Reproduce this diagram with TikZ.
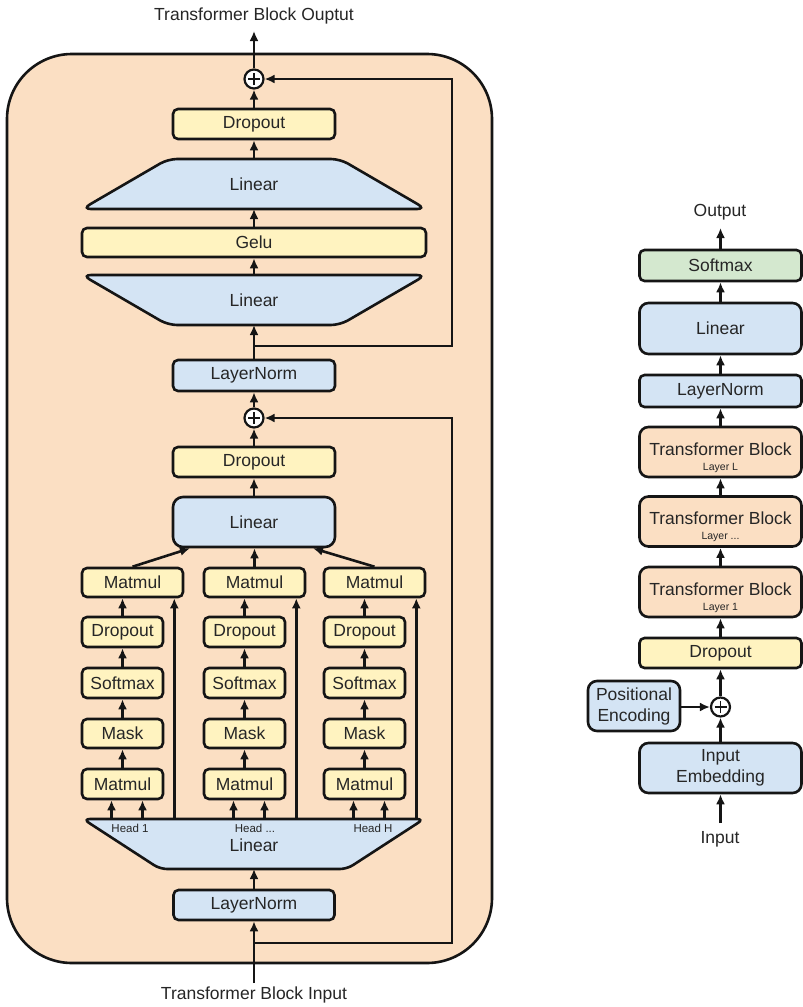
\documentclass[tikz,border=0pt]{standalone}
\usepackage{fontspec}
\setmainfont{Liberation Sans}
\usetikzlibrary{arrows.meta}
\definecolor{cpeach}{HTML}{FBDFC3}
\definecolor{cyel}{HTML}{FFF3C0}
\definecolor{cblue}{HTML}{D4E4F4}
\definecolor{cgreen}{HTML}{D4E8CF}
\definecolor{cline}{HTML}{151515}
\newcommand{\FA}{\fontsize{17.5pt}{21pt}\selectfont}
\newcommand{\FB}{\fontsize{10.5pt}{11pt}\selectfont}
\newcommand{\FH}{\fontsize{11.5pt}{12pt}\selectfont}
\begin{document}
\begin{tikzpicture}[x=1pt,y=-1pt,
 box/.style={draw=cline, line width=2.6pt, rounded corners=5pt, inner sep=0pt, font=\FA, text=black!85, align=center},
 yb/.style={box, fill=cyel},
 bb/.style={box, fill=cblue},
 gb/.style={box, fill=cgreen},
 pb/.style={box, fill=cpeach},
 arr/.style={draw=cline, line width=2.6pt, -{Latex[length=10pt,width=9pt]}},
 ln/.style={draw=cline, line width=2.6pt},
 lbl/.style={font=\FA, inner sep=0pt, text=black!85},
 hl/.style={font=\FH, inner sep=0pt, text=black!85},
 plus/.style={circle, draw=cline, fill=white, line width=2.2pt, minimum size=19pt, inner sep=0pt,
   path picture={\draw[line width=1.7pt, cline]
     ([xshift=-6pt]path picture bounding box.center) -- ([xshift=6pt]path picture bounding box.center)
     ([yshift=-6pt]path picture bounding box.center) -- ([yshift=6pt]path picture bounding box.center);}},
]
\fill[white] (0,0) rectangle (803,1007);
\useasboundingbox (0,0) rectangle (803,1007);

% ---------------- left: transformer block ----------------
\draw[line width=2.6pt, draw=cline, fill=cpeach, rounded corners=65pt] (7,54) rectangle (492,963);

\node[lbl] (tout) at (254,16) {Transformer Block Ouptut};
\coordinate (toutc) at (254,31);
\node[plus] (p1) at (254,79) {};
\node[yb, minimum width=162pt, minimum height=30pt] (do1) at (254,124) {Dropout};

\draw[ln, fill=cblue, rounded corners=9pt] (82,209) -- (168,159) -- (340,159) -- (426,209) -- cycle;
\node[lbl] (lin1) at (254,184) {Linear};
\coordinate (lin1t) at (254,159);
\coordinate (lin1b) at (254,209);

\node[yb, minimum width=344pt, minimum height=29pt] (gelu) at (254,242.5) {Gelu};

\draw[ln, fill=cblue, rounded corners=9pt] (82,275) -- (426,275) -- (340,325) -- (168,325) -- cycle;
\node[lbl] (lin2) at (254,300) {Linear};
\coordinate (lin2t) at (254,275);
\coordinate (lin2b) at (254,325);

\coordinate (br2) at (254,346);
\node[bb, minimum width=162pt, minimum height=31pt] (ln2) at (254,375.5) {LayerNorm};
\node[plus] (p2) at (254,418) {};
\node[yb, minimum width=162pt, minimum height=30pt] (do2) at (254,462) {Dropout};
\node[bb, minimum width=162pt, minimum height=50pt, rounded corners=10pt] (lin3) at (254,522) {Linear};
\path ([xshift=-64pt]lin3.south) coordinate (l3a) ([xshift=59pt]lin3.south) coordinate (l3c);

\foreach \i/\c/\t in {1/122.5/132.5, 2/244.5/254.5, 3/364.5/374.5} {
  \node[yb, minimum width=101pt, minimum height=29pt] (mt\i) at (\t,582.5) {Matmul};
  \node[yb, minimum width=81pt, minimum height=30pt] (d\i) at (\c,632) {Dropout};
  \node[yb, minimum width=81pt, minimum height=30pt] (s\i) at (\c,683) {Softmax};
  \node[yb, minimum width=81pt, minimum height=29pt] (m\i) at (\c,733.5) {Mask};
  \node[yb, minimum width=81pt, minimum height=30pt] (mb\i) at (\c,784) {Matmul};
}

\draw[ln, fill=cblue, rounded corners=7pt] (83,819) -- (424,819) -- (347,869) -- (160,869) -- cycle;
\coordinate (hlt) at (254,819);
\coordinate (hlb) at (254,869);
\node[hl] (h1) at (130,828) {Head 1};
\node[hl] (h2) at (255,828) {Head ...};
\node[hl] (h3) at (373,828) {Head H};
\node[lbl] (lin4) at (254,845) {Linear};

\node[bb, minimum width=161pt, minimum height=30pt] (ln1) at (254,905) {LayerNorm};
\coordinate (br1) at (254,943);
\coordinate (tinc) at (254,983);
\node[lbl] (tin) at (254,995) {Transformer Block Input};
\coordinate (rx) at (452,0);

% connectors
\draw[arr] (tinc) -- (ln1.south);
\draw[arr] (br1) -- (br1 -| rx) |- (p2.east);
\draw[arr] (ln1.north) -- (hlb);
\foreach \i in {1,2,3} {
  \path ([xshift=-11pt]mb\i.south) coordinate (qa\i) ([xshift=20pt]mb\i.south) coordinate (qb\i)
        ([xshift=-10pt]mt\i.south east) coordinate (v\i);
  \draw[arr] (qa\i |- hlt) -- (qa\i);
  \draw[arr] (qb\i |- hlt) -- (qb\i);
  \draw[arr] (v\i |- hlt) -- (v\i);
  \draw[arr] (mb\i.north) -- (m\i.south);
  \draw[arr] (m\i.north) -- (s\i.south);
  \draw[arr] (s\i.north) -- (d\i.south);
  \draw[arr] (d\i.north) -- (d\i.north |- mt\i.south);
}
\draw[arr] (mt1.north) -- (l3a);
\draw[arr] (mt2.north) -- (mt2.north |- lin3.south);
\draw[arr] (mt3.north) -- (l3c);
\draw[arr] (lin3.north) -- (do2.south);
\draw[arr] (do2.north) -- (p2.south);
\draw[arr] (p2.north) -- (ln2.south);
\draw[arr] (ln2.north) -- (lin2b);
\draw[arr] (br2) -- (br2 -| rx) |- (p1.east);
\draw[arr] (lin2t) -- (gelu.south);
\draw[arr] (gelu.north) -- (lin1b);
\draw[arr] (lin1t) -- (do1.south);
\draw[arr] (do1.north) -- (p1.south);
\draw[arr] (p1.north) -- (toutc);

% ---------------- right: full model ----------------
\node[lbl] (out) at (720,212) {Output};
\coordinate (outc) at (720.5,228);
\node[gb, minimum width=162pt, minimum height=31pt] (rsm) at (720.5,265.5) {Softmax};
\node[bb, minimum width=162pt, minimum height=51pt, rounded corners=9pt] (rlin) at (720.5,328.5) {Linear};
\node[bb, minimum width=162pt, minimum height=32pt] (rln) at (720.5,391) {LayerNorm};
\node[pb, minimum width=162pt, minimum height=50pt, rounded corners=9pt] (tbL) at (720.5,452) {\rule{0pt}{24pt}Transformer Block\\[-6pt]{\FB Layer L}};
\node[pb, minimum width=162pt, minimum height=50pt, rounded corners=9pt] (tbM) at (720.5,521.5) {\rule{0pt}{24pt}Transformer Block\\[-6pt]{\FB Layer ...}};
\node[pb, minimum width=162pt, minimum height=50pt, rounded corners=9pt] (tb1) at (720.5,592) {\rule{0pt}{24pt}Transformer Block\\[-6pt]{\FB Layer 1}};
\node[yb, minimum width=162pt, minimum height=30pt] (rdo) at (720.5,653) {Dropout};
\node[plus] (rp) at (720.5,707) {};
\node[bb, minimum width=92pt, minimum height=50pt, rounded corners=9pt] (pe) at (634,706) {Positional\\Encoding};
\node[bb, minimum width=162pt, minimum height=50pt, rounded corners=9pt] (ie) at (720.5,768) {Input\\Embedding};
\coordinate (rinc) at (720.5,823);
\node[lbl] (inp) at (720,839) {Input};

\draw[arr] (rinc) -- (ie.south);
\draw[arr] (ie.north) -- (rp.south);
\draw[arr] (pe.east |- rp.west) -- (rp.west);
\draw[arr] (rp.north) -- (rdo.south);
\draw[arr] (rdo.north) -- (tb1.south);
\draw[arr] (tb1.north) -- (tbM.south);
\draw[arr] (tbM.north) -- (tbL.south);
\draw[arr] (tbL.north) -- (rln.south);
\draw[arr] (rln.north) -- (rlin.south);
\draw[arr] (rlin.north) -- (rsm.south);
\draw[arr] (rsm.north) -- (outc);
\end{tikzpicture}
\end{document}
